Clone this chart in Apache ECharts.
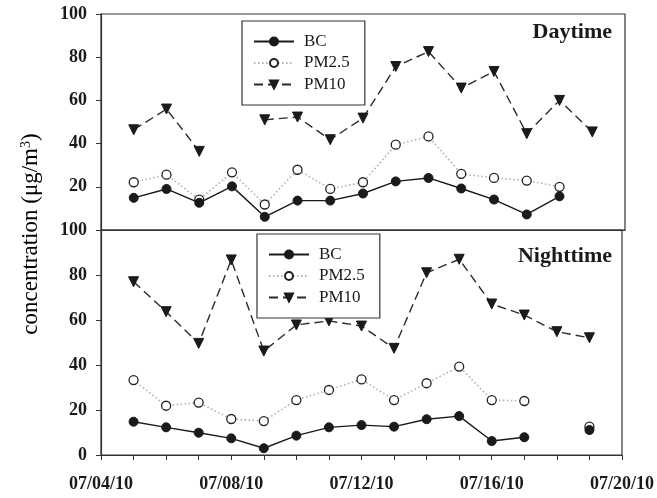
<!DOCTYPE html>
<html>
<head>
<meta charset="utf-8">
<script src="https://cdn.jsdelivr.net/npm/echarts@6/dist/echarts.min.js"></script>
<style>html,body{margin:0;padding:0;background:#fff}#c{width:657px;height:498px}</style>
</head>
<body>
<div id="c"></div>
<script>
// ---- data ----
const dates = ["07/05/10","07/06/10","07/07/10","07/08/10","07/09/10","07/10/10","07/11/10","07/12/10","07/13/10","07/14/10","07/15/10","07/16/10","07/17/10","07/18/10","07/19/10"];
const xTickLabels = ["07/04/10","07/08/10","07/12/10","07/16/10","07/20/10"];
const seriesNames = ["BC","PM2.5","PM10"];
const dayBC   = [14.9,19.0,12.6,20.2,6.1,13.6,13.6,16.9,22.5,24.1,19.2,14.1,7.2,15.6,null];
const dayPM25 = [22.1,25.6,14.1,26.7,11.8,27.9,19.0,22.1,39.5,43.3,26.0,24.1,22.9,20.0,null];
const dayPM10 = [46.4,56.0,36.4,null,51.0,52.3,41.8,51.8,75.7,82.6,65.7,73.4,44.6,60.0,45.4];
const nightBC   = [14.8,12.3,9.9,7.4,3.0,8.6,12.3,13.3,12.6,15.9,17.3,6.2,7.9,null,11.1];
const nightPM25 = [33.3,21.9,23.3,16.0,15.1,24.4,28.9,33.6,24.4,31.9,39.3,24.4,24.0,null,12.6];
const nightPM10 = [77.0,63.7,49.6,86.7,46.2,57.8,59.6,57.3,47.4,81.0,87.0,67.1,62.2,54.8,52.1];
const yTicks = [0,20,40,60,80,100];

// ---- helpers ----
const dayNum = s => parseInt(s.split('/')[1], 10);
const xMin = dayNum(xTickLabels[0]);
const xMax = dayNum(xTickLabels[xTickLabels.length - 1]);
const pts = vals => dates.map((d, i) => [dayNum(d), vals[i]]);
const SERIF = '"Liberation Serif","DejaVu Serif",serif';
const INK = '#1a1a1a';

const styles = {
  "BC":   {symbol:'circle', symbolSize:9, symbolRotate:0, itemStyle:{color:INK, borderColor:INK, borderWidth:1}, lineStyle:{color:INK, width:1.4, type:'solid'}},
  "PM2.5":{symbol:'circle', symbolSize:9, symbolRotate:0, itemStyle:{color:'#fff', borderColor:'#222', borderWidth:1.3}, lineStyle:{color:'#b0b0b0', width:1.6, type:[1.5,2.5]}},
  "PM10": {symbol:'triangle', symbolSize:10, symbolRotate:180, itemStyle:{color:INK, borderColor:INK, borderWidth:1}, lineStyle:{color:'#2a2a2a', width:1.4, type:[9,5]}}
};
function mk(name, vals, idx) {
  const s = styles[name];
  return {
    type:'line', name, xAxisIndex:idx, yAxisIndex:idx, data:pts(vals),
    symbol:s.symbol, symbolSize:s.symbolSize, symbolRotate:s.symbolRotate,
    itemStyle:s.itemStyle, lineStyle:s.lineStyle, connectNulls:false,
    showSymbol:true, animation:false, silent:true, z: name === 'BC' ? 4 : 3
  };
}

const axisLbl = {fontFamily:SERIF, fontWeight:'bold', fontSize:18, color:INK};
function xAxis(idx, showLbl) {
  return {
    type:'value', gridIndex:idx, min:xMin, max:xMax, interval:4,
    axisLine:{show:true, onZero:false, lineStyle:{color:'#333', width:1.2}},
    axisTick:{show:showLbl, length:5, lineStyle:{color:'#333'}},
    minorTick:{show:showLbl, splitNumber:4, length:5, lineStyle:{color:'#333'}},
    splitLine:{show:false},
    axisLabel:{show:showLbl, margin:20, ...axisLbl, formatter: v => xTickLabels[(v - xMin) / 4]}
  };
}
function yAxis(idx, hideZero) {
  return {
    type:'value', gridIndex:idx, min:yTicks[0], max:yTicks[yTicks.length-1], interval:20,
    axisLine:{show:true, lineStyle:{color:'#333', width:1.2}},
    axisTick:{show:true, length:5, lineStyle:{color:'#333'}},
    splitLine:{show:false},
    axisLabel:{margin:14, ...axisLbl, formatter: v => (hideZero && v === 0) ? '' : String(v)}
  };
}
function legend(left, top) {
  return {
    orient:'vertical', left, top, data:seriesNames, selectedMode:false,
    itemWidth:40, itemHeight:10, itemGap:4.5, padding:[12,15,12,11],
    borderColor:'#333', borderWidth:1.2, backgroundColor:'#fff',
    textStyle:{fontFamily:SERIF, fontSize:17, lineHeight:17, color:INK, padding:[0,0,0,5]}
  };
}

const chart = echarts.init(document.getElementById('c'), null, {renderer:'canvas'});
chart.setOption({
  animation:false,
  backgroundColor:'#fff',
  grid:[
    {left:101, width:524, top:14, height:216, show:true, borderColor:'#333', borderWidth:1.2, containLabel:false},
    {left:101, width:524, top:230, height:225, show:true, borderColor:'#333', borderWidth:1.2, containLabel:false}
  ],
  xAxis:[xAxis(0,false), xAxis(1,true)],
  yAxis:[yAxis(0,true), yAxis(1,false)],
  legend:[legend(242,21), legend(257,234)],
  series:[
    mk("BC", dayBC, 0), mk("PM2.5", dayPM25, 0), mk("PM10", dayPM10, 0),
    mk("BC", nightBC, 1), mk("PM2.5", nightPM25, 1), mk("PM10", nightPM10, 1)
  ],
  graphic:[
    {type:'text', right:45, top:21, style:{text:'Daytime', font:'bold 22px ' + SERIF, fill:INK}},
    {type:'text', right:45, top:245, style:{text:'Nighttime', font:'bold 22px ' + SERIF, fill:INK}},
    {type:'text', x:31, y:234, rotation:Math.PI/2,
     style:{text:'{a|concentration (μg/m}{s|3}{a|)}', align:'center', verticalAlign:'middle',
       rich:{a:{fontFamily:SERIF, fontSize:23, color:INK},
             s:{fontFamily:SERIF, fontSize:14, color:INK, verticalAlign:'top', padding:[0,0,9,0]}}}}
  ]
});
</script>
</body>
</html>
